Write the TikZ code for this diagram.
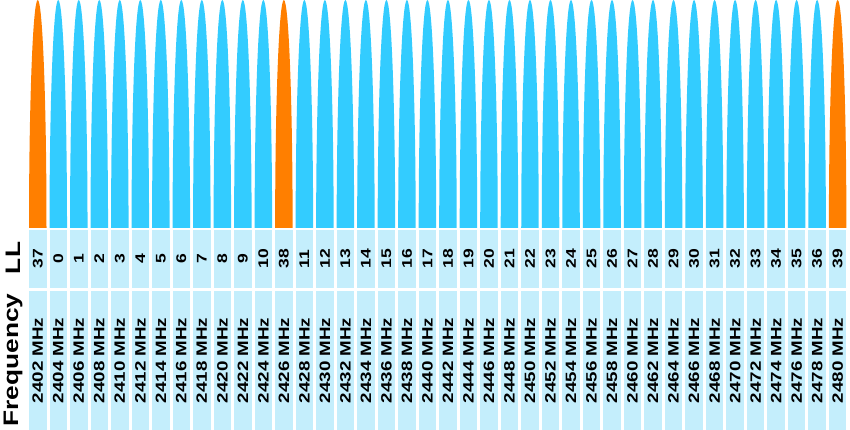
\documentclass[tikz,border=0pt]{standalone}
\usepackage{fontspec}
\setmainfont{Liberation Sans}
\usetikzlibrary{positioning}

\definecolor{advorange}{HTML}{FF7F00}
\definecolor{datablue}{HTML}{33CCFF}
\definecolor{cellblue}{HTML}{C4EEFC}

\newcommand{\stretchtxt}[1]{\scalebox{1.25}[1]{#1}}

\begin{document}
\begin{tikzpicture}[x=1pt, y=1pt,
        llcell/.style={rectangle, fill=cellblue, rotate=90, inner sep=0pt, minimum width=58pt, minimum height=17.5pt, font=\fontsize{14}{15}\bfseries},
        freqcell/.style={rectangle, fill=cellblue, rotate=90, inner sep=0pt, minimum width=139pt, minimum height=17.5pt, font=\fontsize{15}{16}\bfseries},
        rowlabel/.style={rotate=90, inner sep=0pt, font=\fontsize{21}{22}\bfseries}
    ]
        \useasboundingbox (0,0) rectangle (850,430);

        % channels: LL index, one column each
        \foreach \ll [count=\k from 0, evaluate=\k as \cx using 37.75+20.51*\k,
                evaluate=\k as \freq using int(2402+2*\k)]
                in {37,0,1,...,10,38,11,12,...,36,39} {
            \ifnum\ll>36 \def\pk{advorange}\else\def\pk{datablue}\fi
            \fill[\pk] (\cx-8.75,202) arc[start angle=180, end angle=0, x radius=8.75, y radius=228];
            \node[llcell] (ll-\k) at (\cx,171) {\stretchtxt{\ll}};
            \node[freqcell] (freq-\k) at (\cx,69.5) {\stretchtxt{\freq{} MHz}};
        }

        \node[rowlabel] (lllabel) at (13,172) {\stretchtxt{LL}};
        \node[rowlabel] (freqlabel) at (13,70) {\stretchtxt{Frequency}};
    \end{tikzpicture}
\end{document}
